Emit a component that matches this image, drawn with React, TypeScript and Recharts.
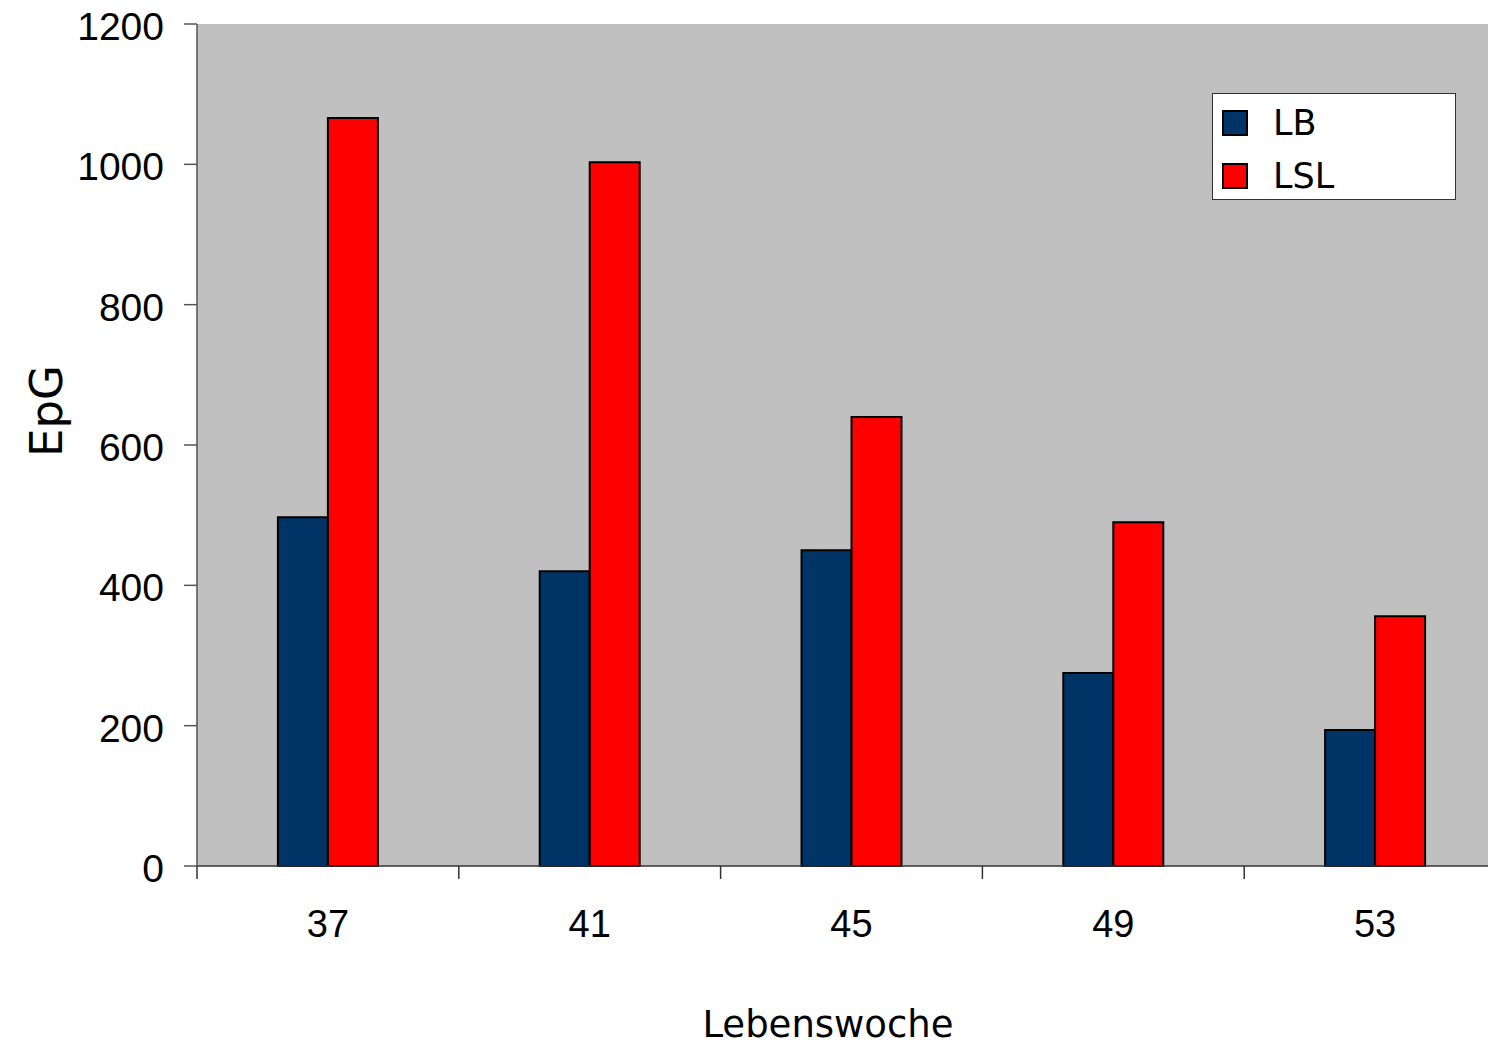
import { BarChart, Bar, XAxis, YAxis, CartesianGrid, Legend } from 'recharts'

const weeks = ['37', '41', '45', '49', '53']
const lbValues = [497, 420, 450, 275, 194]
const lslValues = [1066, 1003, 640, 490, 356]
const yTicks = [0, 200, 400, 600, 800, 1000, 1200]

const seriesNames = ['LB', 'LSL']
const seriesColors = ['#003366', '#ff0000']

const data = weeks.map((week, i) => ({
  week,
  LB: lbValues[i],
  LSL: lslValues[i],
}))

const numFont = '"Liberation Sans", Arial, sans-serif'
const labelFont = '"Comic Sans MS", "DejaVu Sans", sans-serif'

// category label at the centre, tick line at the left edge of the band
function WeekTick(props: any) {
  const { x, y, payload } = props
  const half = payload?.offset ?? 130.9
  return (
    <g>
      <line x1={x - half} x2={x - half} y1={y - 41} y2={y - 28} stroke="#333" strokeWidth={1.5} />
      <text x={x} y={y + 3} dy="0.71em" textAnchor="middle" fontSize={38} fontFamily={numFont} fill="#000">
        {payload.value}
      </text>
    </g>
  )
}

function ValueTick(props: any) {
  const { x, y, payload } = props
  return (
    <text x={x} y={y + 2} dy="0.355em" textAnchor="end" fontSize={39} fontFamily={numFont} fill="#000">
      {payload.value}
    </text>
  )
}

function YTitle() {
  return (
    <text
      x={62}
      y={411}
      transform="rotate(-90, 62, 411)"
      textAnchor="middle"
      fontSize={45}
      fontFamily={labelFont}
      fill="#000"
    >
      EpG
    </text>
  )
}

function XTitle() {
  return (
    <text x={828} y={1037} textAnchor="middle" fontSize={37} fontFamily={labelFont} fill="#000">
      Lebenswoche
    </text>
  )
}

function LegendBox() {
  return (
    <div
      style={{
        position: 'relative',
        width: 242,
        height: 105,
        border: '1px solid #333',
        background: '#fff',
        fontFamily: labelFont,
      }}
    >
      {seriesNames.map((name, i) => (
        <div key={name} style={{ position: 'absolute', left: 9, top: 16 + i * 53, display: 'flex', alignItems: 'center' }}>
          <div
            style={{
              width: 22,
              height: 22,
              border: '2px solid #000',
              background: seriesColors[i],
            }}
          />
          <span style={{ marginLeft: 25, fontSize: 35, lineHeight: '26px', color: '#000' }}>{name}</span>
        </div>
      ))}
    </div>
  )
}

export default function App() {
  return (
    <div
      style={{
        position: 'absolute',
        left: 0,
        top: 0,
        width: 1488,
        height: 1045,
        overflow: 'hidden',
        background: '#fff',
      }}
    >
      <BarChart
        width={1520}
        height={1045}
        data={data}
        margin={{ top: 24, right: 14, bottom: 0, left: 0 }}
        barCategoryGap="30.9%"
        barGap={0}
      >
        <CartesianGrid fill="#c0c0c0" horizontal={false} vertical={false} />
        <XAxis
          dataKey="week"
          height={179}
          tickLine={false}
          tickSize={0}
          tickMargin={41}
          stroke="#333"
          strokeWidth={1.5}
          interval={0}
          tick={<WeekTick />}
          label={<XTitle />}
        />
        <YAxis
          width={197}
          domain={[0, 1200]}
          ticks={yTicks}
          interval={0}
          tickSize={13}
          tickMargin={20}
          stroke="#555"
          strokeWidth={1.5}
          tick={<ValueTick />}
          label={<YTitle />}
        />
        <Legend
          layout="horizontal"
          verticalAlign="middle"
          align="center"
          content={<LegendBox />}
          wrapperStyle={{ left: 1212, top: 93, width: 244 }}
        />
        {seriesNames.map((name, i) => (
          <Bar
            key={name}
            dataKey={name}
            fill={seriesColors[i]}
            stroke="#000"
            strokeWidth={2}
            isAnimationActive={false}
          />
        ))}
      </BarChart>
    </div>
  )
}
